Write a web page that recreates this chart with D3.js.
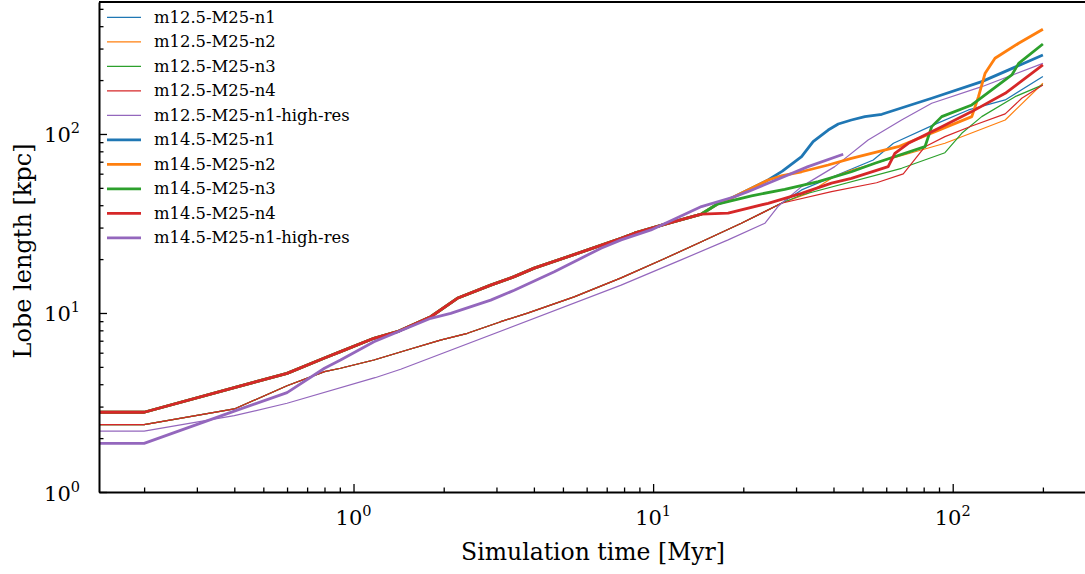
<!DOCTYPE html>
<html>
<head>
<meta charset="utf-8">
<script src="https://cdnjs.cloudflare.com/ajax/libs/d3/7.8.5/d3.min.js"></script>
<style>
  body { margin: 0; background: #fff; }
  text { font-family: "DejaVu Serif", serif; fill: #000; }
</style>
</head>
<body>
<div id="chart"></div>
<script>
// [time Myr, lobe length kpc]
// m12.5 runs n1..n4 are identical until ~27 Myr
var m12Shared = [[0.1414,2.38],[0.2,2.38],[0.4,2.91],[0.6,3.92],[0.8,4.70],[0.905,4.91],[1.17,5.46],[1.51,6.21],[1.95,7.06],[2.40,7.7],[3.10,8.94],[3.81,9.98],[5.45,12.3],[7.82,15.7],[10.8,19.95],[14.5,25.0],[19.7,31.7],[26.8,41.0]];
var m12n1Tail = [[31.3,48.7],[54.3,71.6],[63.4,88.7],[86,112],[112.9,136.2],[149.7,155],[200,209.5]];
var m12n2Tail = [[32.9,46.6],[40.4,58],[45.9,62.9],[94.2,88.7],[149.7,119.7],[200,192]];
var m12n3Tail = [[31.3,45.6],[67.5,64.3],[94.2,78.6],[107.2,100.9],[125,125],[161.5,161.6],[200,188]];
var m12n4Tail = [[39.4,47.6],[55.7,53.4],[68.4,59.8],[80.8,84.9],[94.2,96.6],[115.8,110.8],[149.7,129.4],[170,158.3],[200,187.8]];
var m12HighRes = [[0.1414,2.19],[0.2,2.19],[0.4,2.67],[0.6,3.13],[1.18,4.35],[1.437,4.85],[7.82,14.3],[12.4,19.8],[17.8,25.6],[23.6,31.7],[26.1,39.3],[31.3,50.8],[40.4,65.7],[52.2,92.5],[67.5,119.7],[85.1,148.4],[125,183.7],[200,248]];

// m14.5 runs n1..n4 are identical until ~14.5 Myr
var m14Shared = [[0.1414,2.79],[0.2,2.79],[0.4,3.83],[0.6,4.6],[0.8,5.6],[0.905,6.08],[1.17,7.22],[1.40,7.86],[1.81,9.53],[2.22,12.08],[2.87,14.3],[3.44,15.96],[4.01,17.8],[6.05,22.5],[7.82,26.1],[8.66,27.9],[11.2,31.7],[14.5,35.7]];
var m14n123Shared = [[16.4,40.6]];
var m14n12Shared = [[17.3,41.9],[21.3,49.7],[24.2,55.3]];
var m14n1Tail = [[27,62],[31.3,74.7],[34.2,90.6],[38.4,105.2],[41.5,113.7],[45.9,119.7],[50.9,125],[58,128.8],[85.1,158.3],[125,196],[200,276]];
var m14n2Tail = [[27,58.5],[31.3,61.5],[38.4,67.1],[45.9,73.1],[65.8,84.9],[115.8,125],[121.9,161.6],[128.3,218.4],[138.4,264.8],[166,321],[200,384.6]];
var m14n3Tail = [[21.3,45.1],[27.5,49.1],[35.6,54.2],[45.9,61.5],[55,68.6],[80.8,84.9],[85.1,109.9],[91.9,125],[115.8,145.2],[157.5,213.7],[166,248],[200,318]];
var m14n4Tail = [[17.8,36.1],[24.2,41],[31.3,46.6],[39.4,53.1],[45.9,56.5],[60.9,65.7],[64.1,78],[71.1,88.7],[91.9,109.9],[115.8,133.3],[149.7,168.7],[200,242.9]];
var m14HighRes = [[0.1414,1.87],[0.2,1.87],[0.4,2.83],[0.6,3.59],[0.8,4.91],[0.905,5.46],[1.17,6.91],[1.81,9.34],[2.11,9.96],[2.87,11.8],[3.44,13.4],[4.68,17.0],[6.70,23],[7.82,25.6],[9.84,29.1],[14.5,39.3],[18.7,44.6],[20.7,47.6],[24.2,53.1],[32.9,65.7],[43.1,77.0]];

var names = ["m12.5-M25-n1","m12.5-M25-n2","m12.5-M25-n3","m12.5-M25-n4","m12.5-M25-n1-high-res",
             "m14.5-M25-n1","m14.5-M25-n2","m14.5-M25-n3","m14.5-M25-n4","m14.5-M25-n1-high-res"];
var colors = ["#1f77b4","#ff7f0e","#2ca02c","#d62728","#9467bd"];
var xMajor = [1, 10, 100];
var yMajor = [1, 10, 100];

var seriesPts = [
    m12Shared.concat(m12n1Tail),
    m12Shared.concat(m12n2Tail),
    m12Shared.concat(m12n3Tail),
    m12Shared.concat(m12n4Tail),
    m12HighRes,
    m14Shared.concat(m14n123Shared, m14n12Shared, m14n1Tail),
    m14Shared.concat(m14n123Shared, m14n12Shared, m14n2Tail),
    m14Shared.concat(m14n123Shared, m14n3Tail),
    m14Shared.concat(m14n4Tail),
    m14HighRes
];

var margin = {top: 2, right: -2, bottom: 82, left: 99},
    width = 1085 - margin.left - margin.right,
    height = 574 - margin.top - margin.bottom;

var svg = d3.select("#chart")
    .append("svg")
    .attr("width", 1085)
    .attr("height", 574)
    .append("g")
    .attr("transform", "translate(" + margin.left + "," + margin.top + ")");

var x = d3.scaleLog().domain([0.1414, 280.7]).range([0, width]);
var y = d3.scaleLog().domain([1, 546]).range([height, 0]);

// minor ticks 2..9 in every decade
function minors(lo, hi) {
    var out = [];
    for (var e = -1; e <= 2; e++) {
        for (var k = 2; k <= 9; k++) {
            var v = k * Math.pow(10, e);
            if (v > lo && v < hi) out.push(+v.toPrecision(3));
        }
    }
    return out;
}

svg.append("clipPath").attr("id", "clip")
    .append("rect").attr("width", width).attr("height", height);

// lines
var line = d3.line()
    .x(function(d) { return x(d[0]); })
    .y(function(d) { return y(d[1]); });

svg.append("g").attr("clip-path", "url(#clip)")
    .selectAll("path")
    .data(seriesPts)
    .enter()
    .append("path")
    .attr("d", line)
    .attr("fill", "none")
    .attr("stroke", function(d, i) { return colors[i % 5]; })
    .attr("stroke-width", function(d, i) { return i < 5 ? 1.2 : 2.8; })
    .attr("stroke-linejoin", "round")
    .attr("stroke-linecap", "butt");

// axes, ticks pointing inward
var gx = svg.append("g").attr("transform", "translate(0," + height + ")");
gx.call(d3.axisBottom(x).tickValues(xMajor).tickSize(-8).tickSizeOuter(0).tickFormat(""));
gx.append("g").call(d3.axisBottom(x).tickValues(minors(0.1414, 280.7)).tickSize(-4.5).tickSizeOuter(0).tickFormat(""))
    .select(".domain").remove();

var gy = svg.append("g");
gy.call(d3.axisLeft(y).tickValues(yMajor).tickSize(-8).tickSizeOuter(0).tickFormat(""));
gy.append("g").call(d3.axisLeft(y).tickValues(minors(1, 546)).tickSize(-4.5).tickSizeOuter(0).tickFormat(""))
    .select(".domain").remove();

svg.selectAll(".domain").attr("stroke", "#000").attr("stroke-width", 2);
svg.selectAll(".tick line").attr("stroke", "#000").attr("stroke-width", 1.3);

// top spine
svg.append("line")
    .attr("x1", 0).attr("x2", width).attr("y1", 0).attr("y2", 0)
    .attr("stroke", "#000").attr("stroke-width", 2);

// tick labels like 10^n
function expLabel(sel, v) {
    var e = Math.round(Math.log10(v));
    sel.append("tspan").text("10");
    sel.append("tspan").attr("dy", -9).attr("font-size", "14.5px").text(e);
}

xMajor.forEach(function(v) {
    var t = svg.append("text")
        .attr("x", x(v)).attr("y", height + 33)
        .attr("text-anchor", "middle").attr("font-size", "21px");
    expLabel(t, v);
});

yMajor.forEach(function(v) {
    var t = svg.append("text")
        .attr("x", -19).attr("y", y(v) + 8.5)
        .attr("text-anchor", "end").attr("font-size", "21px");
    expLabel(t, v);
});

// axis titles
svg.append("text")
    .attr("x", 593 - margin.left).attr("y", 560 - margin.top)
    .attr("text-anchor", "middle").attr("font-size", "23.5px")
    .text("Simulation time [Myr]");

svg.append("text")
    .attr("transform", "translate(" + (31 - margin.left) + "," + (251 - margin.top) + ")rotate(-90)")
    .attr("text-anchor", "middle").attr("font-size", "24px")
    .text("Lobe length [kpc]");

// legend
var leg = svg.append("g").attr("transform", "translate(" + (107 - margin.left) + "," + (17.3 - margin.top) + ")");
names.forEach(function(n, i) {
    var row = leg.append("g").attr("transform", "translate(0," + (i * 24.5) + ")");
    row.append("line")
        .attr("x1", 0).attr("x2", 34).attr("y1", 0).attr("y2", 0)
        .attr("stroke", colors[i % 5])
        .attr("stroke-width", i < 5 ? 1.2 : 2.8);
    row.append("text")
        .attr("x", 47).attr("y", 5.5)
        .attr("font-size", "16.4px")
        .text(n);
});
</script>
</body>
</html>
